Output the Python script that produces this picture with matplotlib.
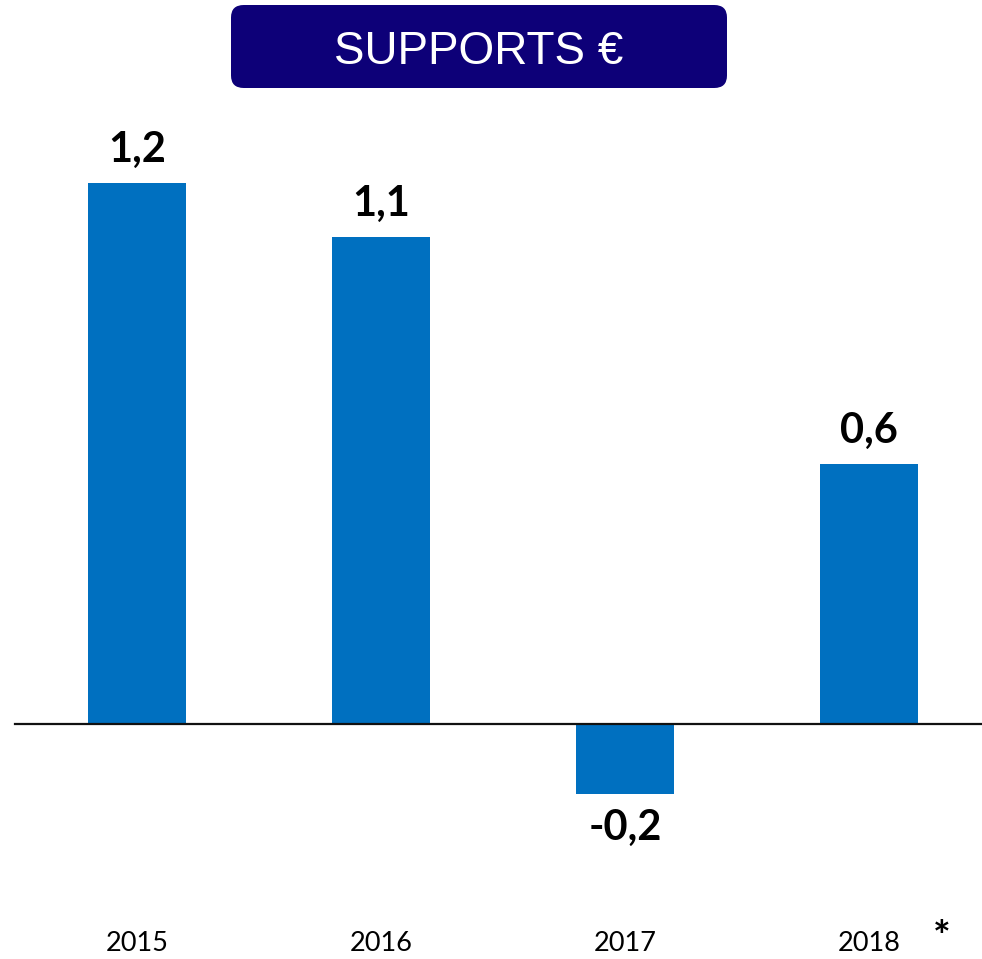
import matplotlib
matplotlib.use("Agg")
import matplotlib.pyplot as plt
from matplotlib.patches import FancyBboxPatch
import matplotlib.transforms as mtrans

# data
years = ['2015', '2016', '2017', '2018']
values = [1.2, 1.08, -0.155, 0.576]
labels = ['1,2', '1,1', '-0,2', '0,6']
title = 'SUPPORTS €'

bar_col = '#0070C0'
navy = '#0D0078'

W, H = 982, 959
fig = plt.figure(figsize=(W / 100, H / 100), dpi=100)
ax = fig.add_axes([0, 0, 1, 1])

x = list(range(len(years)))
ax.bar(x, values, width=0.4, color=bar_col, zorder=2)

# axis scaling so bars land where the reference has them
ax.set_xlim(-137 / 244, (W - 137) / 244)
ax.set_ylim(-235 / 451, (H - 235) / 451)
ax.axis('off')

# zero line
ax.axhline(0, xmin=15 / W, xmax=1, color='#111111', lw=1.6, zorder=3)

# value labels
for xi, v, lab in zip(x, values, labels):
    if v >= 0:
        ax.annotate(lab, (xi, v), xytext=(0, 15), textcoords='offset points',
                    ha='center', va='baseline', fontsize=30, fontweight='bold',
                    family='Lato')
    else:
        ax.annotate(lab, (xi, v), xytext=(0, -33), textcoords='offset points',
                    ha='center', va='baseline', fontsize=30, fontweight='bold',
                    family='Lato')

# year labels along the bottom
trans = mtrans.blended_transform_factory(ax.transData, fig.transFigure)
for xi, yr in zip(x, years):
    ax.text(xi, 8 / H, yr, transform=trans, ha='center', va='baseline',
            fontsize=19.5, family='Lato')
# asterisk next to 2018 (kept inside the canvas)
fig.text(942 / W, 1 / H, '*', ha='center', va='bottom', fontsize=30,
         fontweight='bold', family='Lato')

# title box
box = FancyBboxPatch((231 / W, (H - 88) / H), 496 / W, 83 / H,
                     boxstyle='round,pad=0,rounding_size=0.013',
                     transform=fig.transFigure, facecolor=navy,
                     edgecolor='none')
fig.patches.append(box)
fig.text(479 / W, (H - 64) / H, title, ha='center', va='baseline',
         fontsize=33, color='white', family='Liberation Sans')

fig.savefig('out.png', dpi=100)
